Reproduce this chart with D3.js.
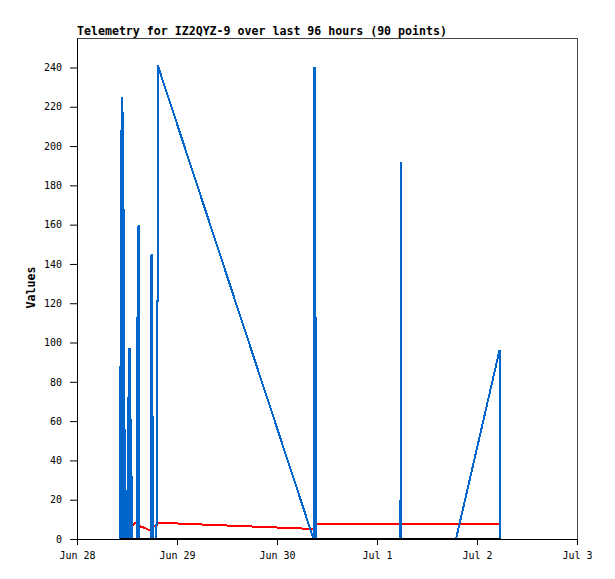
<!DOCTYPE html>
<html>
<head>
<meta charset="utf-8">
<script src="https://cdn.jsdelivr.net/npm/d3@7"></script>
<style>
  body { margin: 0; background: #fff; }
  svg text { font-family: "DejaVu Sans Mono", monospace; }
</style>
</head>
<body>
<div id="chart"></div>
<script>
// Chart size and margins
const width = 615;
const height = 579;
const margin = { top: 38, right: 38, bottom: 40, left: 77 };
const innerWidth = width - margin.left - margin.right;
const innerHeight = height - margin.top - margin.bottom;

// Texts and axis settings
const chartTitle = "Telemetry for IZ2QYZ-9 over last 96 hours (90 points)";
const yLabel = "Values";
const xDomain = ["2024-06-28 00:00", "2024-07-03 00:00"];
const yMax = 255;
const yTicks = [0, 20, 40, 60, 80, 100, 120, 140, 160, 180, 200, 220, 240];

// Series: [time, value]
const blueSeries = [
    ["2024-06-28 10:19", 0], ["2024-06-28 10:26", 88], ["2024-06-28 10:34", 0],
    ["2024-06-28 10:41", 208], ["2024-06-28 10:48", 0], ["2024-06-28 10:55", 225],
    ["2024-06-28 11:02", 0], ["2024-06-28 11:10", 168], ["2024-06-28 11:17", 0],
    ["2024-06-28 11:24", 58], ["2024-06-28 11:31", 0], ["2024-06-28 12:00", 0],
    ["2024-06-28 12:07", 25], ["2024-06-28 12:14", 0], ["2024-06-28 12:22", 73],
    ["2024-06-28 12:29", 0], ["2024-06-28 12:36", 97], ["2024-06-28 12:43", 0],
    ["2024-06-28 12:50", 65], ["2024-06-28 12:58", 0], ["2024-06-28 13:05", 32],
    ["2024-06-28 13:12", 0], ["2024-06-28 14:24", 0], ["2024-06-28 14:31", 113],
    ["2024-06-28 14:38", 0], ["2024-06-28 14:46", 160], ["2024-06-28 14:53", 0],
    ["2024-06-28 17:46", 0], ["2024-06-28 17:53", 145], ["2024-06-28 18:00", 0],
    ["2024-06-28 18:07", 65], ["2024-06-28 18:14", 0], ["2024-06-28 19:05", 0],
    ["2024-06-28 19:08", 121], ["2024-06-28 19:20", 121], ["2024-06-28 19:24", 241],
    ["2024-06-30 08:46", 0], ["2024-06-30 09:00", 240], ["2024-06-30 09:07", 0],
    ["2024-06-30 09:14", 120], ["2024-06-30 09:22", 0],
    ["2024-07-01 05:38", 0], ["2024-07-01 05:46", 192], ["2024-07-01 05:53", 0],
    ["2024-07-01 18:58", 0], ["2024-07-02 05:24", 96], ["2024-07-02 05:38", 0]
];

const redSeries = [
    ["2024-06-28 10:19", 7.3], ["2024-06-28 13:34", 7.3], ["2024-06-28 13:48", 8.2],
    ["2024-06-28 14:17", 8.2], ["2024-06-28 14:24", 6.8], ["2024-06-28 15:22", 6.3],
    ["2024-06-28 16:19", 5.6], ["2024-06-28 17:38", 4.2], ["2024-06-28 17:53", 6.8],
    ["2024-06-28 19:05", 6.8], ["2024-06-28 19:19", 8.3],
    ["2024-06-30 08:46", 5.1], ["2024-06-30 09:14", 5.1], ["2024-06-30 09:22", 7.5],
    ["2024-07-01 05:38", 7.5], ["2024-07-01 05:46", 7.9], ["2024-07-01 05:53", 7.5],
    ["2024-07-02 05:50", 7.5]
];

const blackSeries = [
    ["2024-06-28 10:19", 0], ["2024-06-30 09:22", 0], ["2024-07-02 05:46", 0]
];

const parseTime = d3.timeParse("%Y-%m-%d %H:%M");
const toPoints = s => s.map(([t, v]) => ({ t: parseTime(t), v: v }));

const svg = d3.select('#chart')
    .append('svg')
    .attr('width', width)
    .attr('height', height);

const g = svg.append('g')
    .attr('transform', `translate(${margin.left},${margin.top})`);

// Scales
const xScale = d3.scaleTime()
    .domain(xDomain.map(parseTime))
    .range([0, innerWidth]);

const yScale = d3.scaleLinear()
    .domain([0, yMax])
    .range([innerHeight, 0]);

// Frame: top and right in grey
g.append('line')
    .attr('x1', 0).attr('x2', innerWidth)
    .attr('y1', 0.5).attr('y2', 0.5)
    .style('stroke', '#444');
g.append('line')
    .attr('x1', innerWidth + 0.5).attr('x2', innerWidth + 0.5)
    .attr('y1', 0).attr('y2', innerHeight)
    .style('stroke', '#444');

// Axes
const xAxis = g.append('g')
    .attr('transform', `translate(0,${innerHeight})`)
    .call(d3.axisBottom(xScale)
        .ticks(d3.timeDay.every(1))
        .tickFormat(d3.timeFormat('%b %-d'))
        .tickSize(6)
        .tickSizeOuter(0)
        .tickPadding(7));

const yAxis = g.append('g')
    .call(d3.axisLeft(yScale)
        .tickValues(yTicks)
        .tickSize(7)
        .tickSizeOuter(0)
        .tickPadding(8));

[xAxis, yAxis].forEach(a => a
    .attr('font-family', '"DejaVu Sans Mono", monospace')
    .attr('font-size', 10));

// Title and axis label
svg.append('text')
    .attr('x', margin.left)
    .attr('y', 35)
    .style('font-size', '11.6px')
    .style('font-weight', 'bold')
    .style('fill', '#000')
    .text(chartTitle);

svg.append('text')
    .attr('transform', `translate(35,${margin.top + innerHeight / 2 - 1}) rotate(-90)`)
    .attr('text-anchor', 'middle')
    .style('font-size', '11.6px')
    .style('font-weight', 'bold')
    .style('fill', '#000')
    .text(yLabel);

// Lines
const line = d3.line()
    .x(d => xScale(d.t))
    .y(d => yScale(d.v));

const series = [
    { data: redSeries, color: '#ff0000' },
    { data: blueSeries, color: '#0066cc' },
    { data: blackSeries, color: '#000000' }
];

series.forEach(s => {
    g.append('path')
        .datum(toPoints(s.data))
        .attr('d', line)
        .style('fill', 'none')
        .style('stroke', s.color)
        .style('stroke-width', 2)
        .style('shape-rendering', 'crispEdges');
});
</script>
</body>
</html>
